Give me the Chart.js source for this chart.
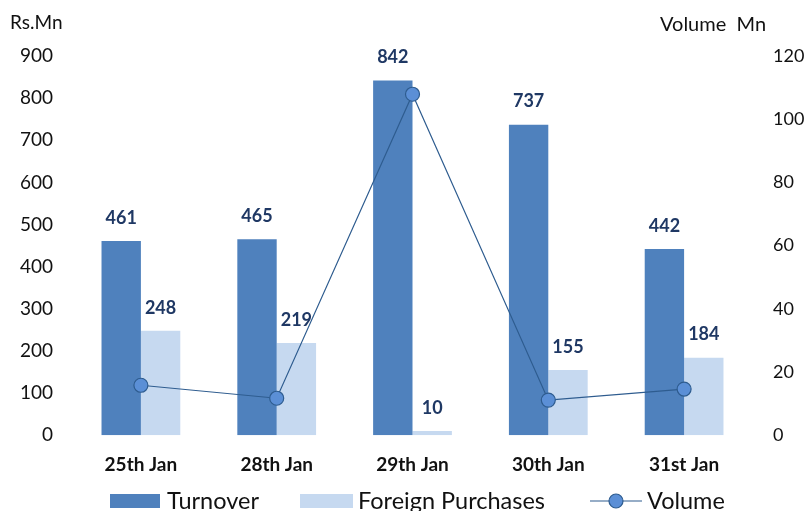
<!DOCTYPE html>
<html>
<head>
<meta charset="utf-8">
<script src="https://cdn.jsdelivr.net/npm/chart.js@4.4.1/dist/chart.umd.min.js"></script>
<style>
  html, body { margin: 0; padding: 0; background: #fff; }
  #wrap { width: 808px; height: 511px; }
</style>
</head>
<body>
<div id="wrap"><canvas id="c" width="808" height="511"></canvas></div>
<script>
// Market turnover vs foreign purchases, with volume on the right axis
const days = ['25th Jan', '28th Jan', '29th Jan', '30th Jan', '31st Jan'];
const turnover = [461, 465, 842, 737, 442];
const foreignPurchases = [248, 219, 10, 155, 184];
const volume = [15.8, 11.7, 107.9, 11.1, 14.6];

const FONT = "'Lato', 'Open Sans', sans-serif";
const DARK_BLUE = '#4f81bd';
const LIGHT_BLUE = '#c6d9f0';
const LABEL = '#1f3864';

// value labels above the bars
const barLabels = {
    id: 'barLabels',
    afterDatasetsDraw(chart) {
        const ctx = chart.ctx;
        ctx.save();
        ctx.font = `bold 18px ${FONT}`;
        ctx.fillStyle = LABEL;
        ctx.textAlign = 'center';
        ctx.textBaseline = 'middle';
        [0, 1].forEach(i => {
            const meta = chart.getDatasetMeta(i);
            meta.data.forEach((bar, j) => {
                ctx.fillText(chart.data.datasets[i].data[j], bar.x, bar.y - 23);
            });
        });
        ctx.restore();
    }
};

// axis captions and bottom legend
const extras = {
    id: 'extras',
    afterDraw(chart) {
        const ctx = chart.ctx;
        ctx.save();
        ctx.font = `19px ${FONT}`;
        ctx.fillStyle = '#111';
        ctx.textBaseline = 'middle';
        ctx.textAlign = 'left';
        ctx.fillText('Rs.Mn', 10, 23);
        ctx.font = `20px ${FONT}`;
        ctx.fillText('Volume  Mn', 660, 25);

        const y = 501;
        ctx.font = `23.5px ${FONT}`;
        ctx.fillStyle = DARK_BLUE;
        ctx.fillRect(110, y - 7, 50, 14);
        ctx.fillStyle = '#111';
        ctx.fillText(chart.data.datasets[0].label, 167, y);

        ctx.fillStyle = LIGHT_BLUE;
        ctx.fillRect(300, y - 7, 53, 14);
        ctx.fillStyle = '#111';
        ctx.fillText(chart.data.datasets[1].label, 358, y);

        ctx.strokeStyle = '#2e5c8f';
        ctx.lineWidth = 1.2;
        ctx.beginPath();
        ctx.moveTo(590, y);
        ctx.lineTo(642, y);
        ctx.stroke();
        ctx.beginPath();
        ctx.arc(616, y, 7, 0, Math.PI * 2);
        ctx.fillStyle = '#5b8fd6';
        ctx.fill();
        ctx.strokeStyle = '#2e5c8f';
        ctx.stroke();
        ctx.fillStyle = '#111';
        ctx.fillText(chart.data.datasets[2].label, 647, y);
        ctx.restore();
    }
};

new Chart(document.getElementById('c'), {
    type: 'bar',
    data: {
        labels: days,
        datasets: [
            { label: 'Turnover', data: turnover, backgroundColor: DARK_BLUE, yAxisID: 'y', order: 2,
              barPercentage: 1, categoryPercentage: 0.58 },
            { label: 'Foreign Purchases', data: foreignPurchases, backgroundColor: LIGHT_BLUE, yAxisID: 'y', order: 2,
              barPercentage: 1, categoryPercentage: 0.58 },
            { type: 'line', label: 'Volume', data: volume, yAxisID: 'y1', order: 1,
              borderColor: '#2e5c8f', borderWidth: 1.2, pointRadius: 7, pointHoverRadius: 7,
              pointBackgroundColor: '#5b8fd6', pointBorderColor: '#2e5c8f', pointBorderWidth: 1.2, tension: 0 }
        ]
    },
    options: {
        responsive: false,
        animation: false,
        layout: { padding: { top: 56, bottom: 25, left: 0, right: 0 } },
        plugins: { legend: { display: false }, tooltip: { enabled: false } },
        scales: {
            x: {
                grid: { display: false },
                border: { display: false },
                ticks: { color: '#111', font: { family: FONT, size: 19, weight: 'bold' }, padding: 10 }
            },
            y: {
                position: 'left',
                min: 0, max: 900,
                grid: { display: false },
                border: { display: false },
                ticks: { stepSize: 100, color: '#111', font: { family: FONT, size: 19 }, padding: 12 },
                afterFit(s) { s.width = 73; }
            },
            y1: {
                position: 'right',
                min: 0, max: 120,
                grid: { display: false },
                border: { display: false },
                ticks: { stepSize: 20, color: '#111', font: { family: FONT, size: 18 }, padding: 13 },
                afterFit(s) { s.width = 56; }
            }
        }
    },
    plugins: [barLabels, extras]
});
</script>
</body>
</html>
